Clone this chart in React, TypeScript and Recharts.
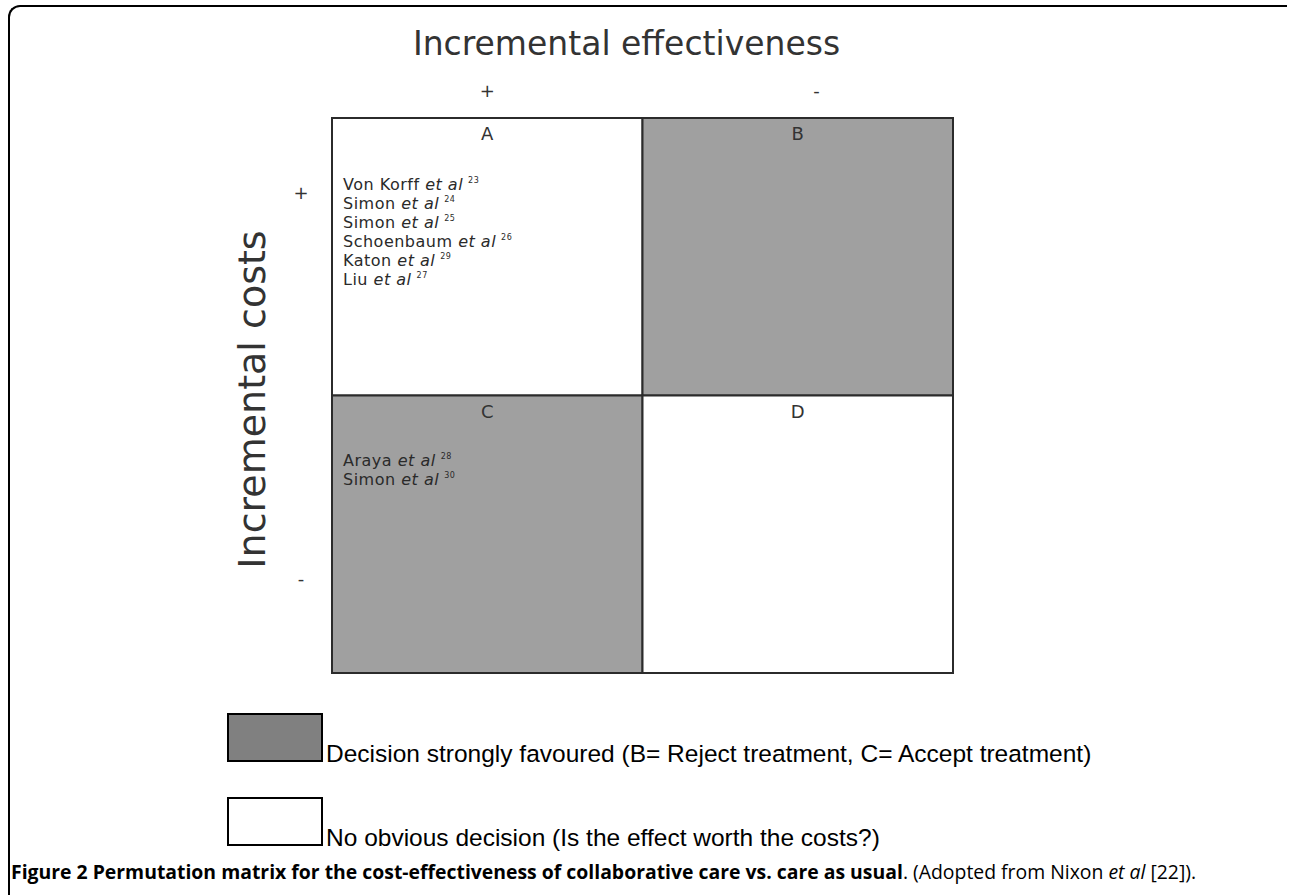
import React from "react";
import {
  ComposedChart,
  XAxis,
  YAxis,
  ReferenceArea,
  Label,
  Scatter,
} from "recharts";

// axis ticks (value on the 0..2 scale and the sign shown there)
const effectTicks = [0.5, 1.56];
const effectTickLabels = ["+", "-"];
const costTicks = [1.73, 0.34];
const costTickLabels = ["+", "-"];

// the four quadrants
const quadrantNames = ["A", "B", "C", "D"];
const quadrantX1 = [0, 1, 0, 1];
const quadrantX2 = [1, 2, 1, 2];
const quadrantY1 = [1, 1, 0, 0];
const quadrantY2 = [2, 2, 1, 1];
const quadrantFills = ["#ffffff", "#a0a0a0", "#a0a0a0", "#ffffff"];

// studies listed in quadrants A and C
const studiesA = ["Von Korff", "Simon", "Simon", "Schoenbaum", "Katon", "Liu"];
const refsA = ["23", "24", "25", "26", "29", "27"];
const studiesC = ["Araya", "Simon"];
const refsC = ["28", "30"];

// legend
const legendFills = ["#808080", "#ffffff"];
const legendLabels = [
  "Decision strongly favoured (B= Reject treatment, C= Accept treatment)",
  "No obvious decision (Is the effect worth the costs?)",
];

const cellFont = "'DejaVu Sans', Verdana, sans-serif";

const centers = quadrantNames.map((name, i) => ({
  name,
  x: (quadrantX1[i] + quadrantX2[i]) / 2,
  y: (quadrantY1[i] + quadrantY2[i]) / 2,
}));

const EffectTick = (props: any) => {
  const { x, y, payload } = props;
  const idx = effectTicks.indexOf(payload.value);
  return (
    <text x={x} y={y - 21} textAnchor="middle" fontSize={18} fill="#333" fontFamily={cellFont}>
      {effectTickLabels[idx]}
    </text>
  );
};

const CostTick = (props: any) => {
  const { x, y, payload } = props;
  const idx = costTicks.indexOf(payload.value);
  return (
    <text x={x - 31} y={y + 6} textAnchor="middle" fontSize={18} fill="#333" fontFamily={cellFont}>
      {costTickLabels[idx]}
    </text>
  );
};

const renderEffectTitle = (props: any) => {
  const vb = props.viewBox;
  return (
    <text x={vb.x + vb.width / 2 - 16} y={vb.y + 47} textAnchor="middle" fontSize={33} fill="#333" fontFamily={cellFont}>
      Incremental effectiveness
    </text>
  );
};

const renderCostTitle = (props: any) => {
  const vb = props.viewBox;
  const cx = vb.x + vb.width / 2 + 3;
  const cy = vb.y + vb.height / 2 + 4;
  return (
    <text x={cx} y={cy} textAnchor="middle" dominantBaseline="central" fontSize={38} fill="#333" fontFamily={cellFont} transform={`rotate(-90, ${cx}, ${cy})`}>
      Incremental costs
    </text>
  );
};

const studyList = (names: string[], refs: string[], top: number) => (props: any) => {
  const vb = props.viewBox;
  return (
    <g>
      {names.map((n, i) => (
        <text key={i} x={vb.x + 11} y={vb.y + top + i * 19} fontSize={16} fill="#2a2a2a" fontFamily={cellFont} letterSpacing={0.5}>
          <tspan>{n} </tspan>
          <tspan fontStyle="italic">et al</tspan>
          <tspan fontSize={8} dx={5} dy={-7}>{refs[i]}</tspan>
        </text>
      ))}
    </g>
  );
};

const letterLabel = (name: string) => (props: any) => {
  const vb = props.viewBox;
  return (
    <text x={vb.x + vb.width / 2} y={vb.y + 22} textAnchor="middle" fontSize={18} fill="#333" fontFamily={cellFont}>
      {name}
    </text>
  );
};

function App() {
  return (
    <div style={{ position: "absolute", left: 0, top: 0, width: 1290, height: 895, background: "#fff" }}>
      {/* page frame */}
      <div
        style={{
          position: "absolute",
          left: 8,
          top: 5,
          width: 1277,
          height: 890,
          borderTop: "2px solid #000",
          borderLeft: "2px solid #000",
          borderTopLeftRadius: 12,
        }}
      />
      <ComposedChart
        width={1290}
        height={895}
        data={centers}
        margin={{ top: 8, right: 337, bottom: 222, left: 165 }}
        style={{ position: "absolute", left: 0, top: 0 }}
      >
        <XAxis
          type="number"
          dataKey="x"
          orientation="top"
          domain={[0, 2]}
          ticks={effectTicks}
          tick={<EffectTick />}
          axisLine={false}
          tickLine={false}
          tickSize={0}
          tickMargin={0}
          height={110}
          label={renderEffectTitle}
        />
        <YAxis
          type="number"
          dataKey="y"
          domain={[0, 2]}
          ticks={costTicks}
          tick={<CostTick />}
          axisLine={false}
          tickLine={false}
          tickSize={0}
          tickMargin={0}
          width={167}
          label={renderCostTitle}
        />
        {quadrantNames.map((name, i) => (
          <ReferenceArea
            key={name}
            x1={quadrantX1[i]}
            x2={quadrantX2[i]}
            y1={quadrantY1[i]}
            y2={quadrantY2[i]}
            fill={quadrantFills[i]}
            fillOpacity={1}
            stroke="#2b2b2b"
            strokeWidth={2}
          >
            <Label content={letterLabel(name)} />
            {name === "A" && <Label content={studyList(studiesA, refsA, 72)} />}
            {name === "C" && <Label content={studyList(studiesC, refsC, 70)} />}
          </ReferenceArea>
        ))}
        <Scatter dataKey="y" fillOpacity={0} legendType="none" isAnimationActive={false} />
      </ComposedChart>

      {/* legend */}
      {legendLabels.map((text, i) => (
        <div key={i} style={{ position: "absolute", left: 227, top: 713 + i * 84, height: 49, display: "flex", alignItems: "flex-end" }}>
          <div style={{ width: 92, height: 45, background: legendFills[i], border: "2px solid #000" }} />
          <span style={{ fontFamily: "'Liberation Sans', Arial, sans-serif", fontSize: 24.5, color: "#000", marginLeft: 3, lineHeight: "24px", position: "relative", top: 4 }}>
            {text}
          </span>
        </div>
      ))}

      {/* caption */}
      <div style={{ position: "absolute", left: 11, top: 858, fontFamily: "'Open Sans', sans-serif", fontSize: 19.4, color: "#000", whiteSpace: "nowrap" }}>
        <b>Figure 2 Permutation matrix for the cost-effectiveness of collaborative care vs. care as usual</b>. (Adopted from Nixon <i>et al</i> [22]).
      </div>
    </div>
  );
}

export default App;
